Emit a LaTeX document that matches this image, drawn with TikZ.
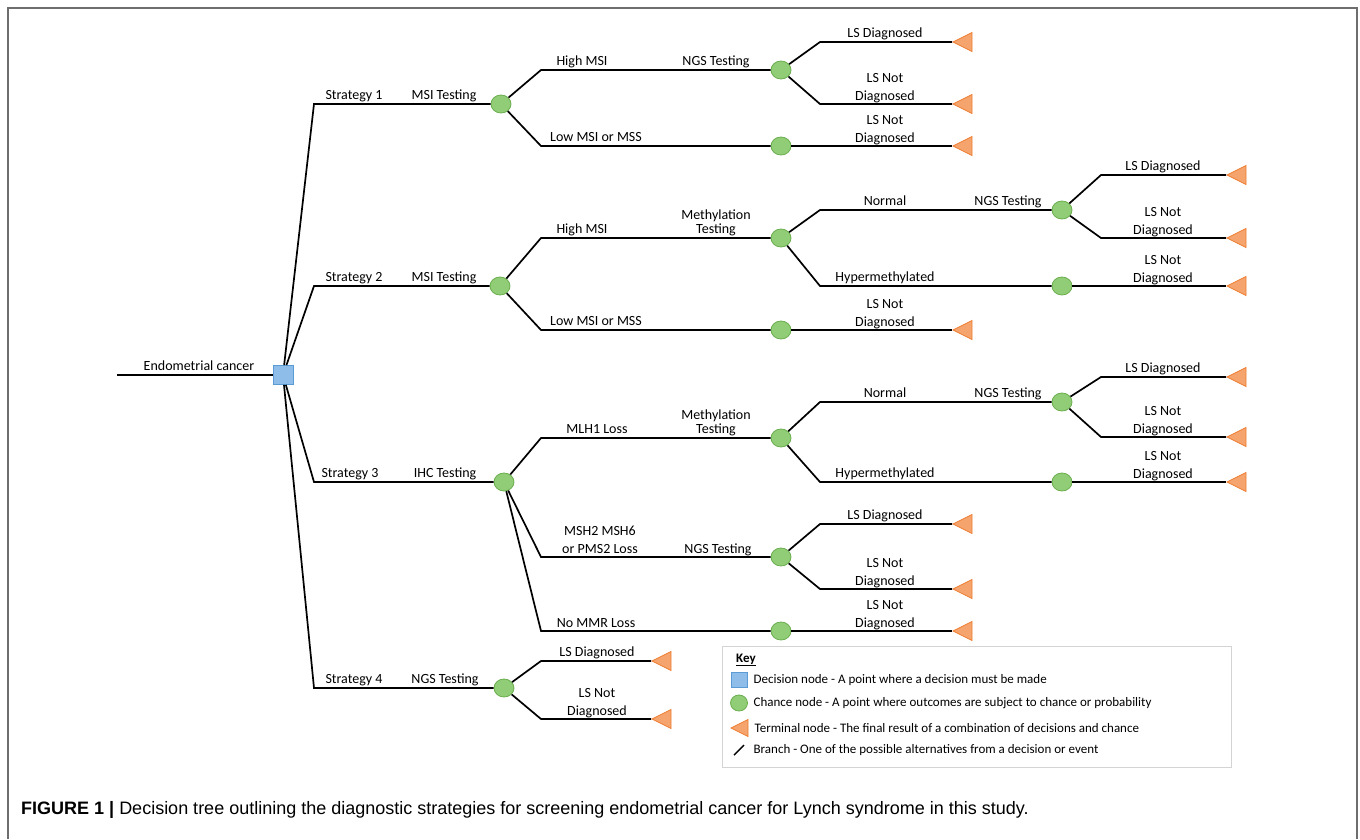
\documentclass[tikz,border=0pt]{standalone}
\usepackage{fontspec}
\setmainfont{Carlito}
\newfontfamily\capfont{Liberation Sans}
\usetikzlibrary{shapes.geometric,calc,positioning}
\definecolor{decfill}{HTML}{8EBDE9}
\definecolor{decline}{HTML}{5B9BD5}
\definecolor{chfill}{HTML}{91CD76}
\definecolor{chline}{HTML}{6AAE4E}
\definecolor{termfill}{HTML}{F6A46E}
\definecolor{termline}{HTML}{ED7D31}
\definecolor{framegray}{HTML}{6E6E6E}
\definecolor{keygray}{HTML}{D4D4D4}

\tikzset{
  branch/.style={line width=1.7pt},
  decision/.style={rectangle, fill=decfill, draw=decline, line width=0.8pt,
    minimum width=20pt, minimum height=19pt, inner sep=0pt},
  chance/.style={ellipse, fill=chfill, draw=chline, line width=0.8pt,
    minimum width=20pt, minimum height=18pt, inner sep=0pt},
  terminal/.style={isosceles triangle, shape border rotate=180,
    isosceles triangle stretches, minimum width=19pt, minimum height=19pt,
    fill=termfill, draw=termline, line width=0.8pt, inner sep=0pt, anchor=apex},
  lbl/.style={font=\fontsize{14}{17.5}\selectfont, inner sep=0pt, anchor=base, align=center},
  keytext/.style={font=\fontsize{13}{16}\selectfont, inner sep=0pt, anchor=west},
}

\begin{document}
\begin{tikzpicture}[x=1pt, y=-1pt]
  \useasboundingbox (0,0) rectangle (1360,839);
  \draw[framegray, line width=1.5pt] (8,839) -- (8,8) -- (1357,8) -- (1357,839);

  % columns where the branches turn
  \coordinate (colS) at (314,0);
  \coordinate (colA) at (541,0);
  \coordinate (colB) at (820,0);
  \coordinate (colC) at (1101,0);

  \coordinate (root) at (117,375);
  \node[decision] (dec) at (283,375) {};
  \node[lbl] (l-root) at (199,370) {Endometrial cancer};
  \draw[branch] (root) -- (dec);

  % chance and terminal nodes
  \node[chance] (s1) at (501,104) {};
  \node[chance] (n1) at (781,70) {};
  \node[chance] (c1) at (781,146) {};
  \node[terminal] (t1a) at (952,42) {};
  \node[terminal] (t1b) at (952,104) {};
  \node[terminal] (t1c) at (952,146) {};

  \node[chance] (s2) at (500,286) {};
  \node[chance] (m2) at (781,238) {};
  \node[chance] (c2) at (781,330) {};
  \node[chance] (g2) at (1062,210) {};
  \node[chance] (h2) at (1062,286) {};
  \node[terminal] (t2a) at (1226,175) {};
  \node[terminal] (t2b) at (1226,238) {};
  \node[terminal] (t2c) at (1226,286) {};
  \node[terminal] (t2d) at (952,330) {};

  \node[chance] (s3) at (504,482) {};
  \node[chance] (m3) at (781,438) {};
  \node[chance] (n3) at (781,557) {};
  \node[chance] (c3) at (781,631) {};
  \node[chance] (g3) at (1062,402) {};
  \node[chance] (h3) at (1062,482) {};
  \node[terminal] (t3a) at (1226,377) {};
  \node[terminal] (t3b) at (1226,437) {};
  \node[terminal] (t3c) at (1226,482) {};
  \node[terminal] (t3d) at (952,524) {};
  \node[terminal] (t3e) at (952,589) {};
  \node[terminal] (t3f) at (952,631) {};

  \node[chance] (s4) at (504,688) {};
  \node[terminal] (t4a) at (651,661) {};
  \node[terminal] (t4b) at (651,719) {};

  % branches
  \draw[branch] (dec) -- (colS |- s1) -- (s1);
  \draw[branch] (dec) -- (colS |- s2) -- (s2);
  \draw[branch] (dec) -- (colS |- s3) -- (s3);
  \draw[branch] (dec) -- (colS |- s4) -- (s4);

  \draw[branch] (s1) -- (colA |- n1) -- (n1);
  \draw[branch] (s1) -- (colA |- c1) -- (c1);
  \draw[branch] (n1) -- (colB |- t1a) -- (t1a);
  \draw[branch] (n1) -- (colB |- t1b) -- (t1b);
  \draw[branch] (c1) -- (t1c);

  \draw[branch] (s2) -- (colA |- m2) -- (m2);
  \draw[branch] (s2) -- (colA |- c2) -- (c2);
  \draw[branch] (c2) -- (t2d);
  \draw[branch] (m2) -- (colB |- g2) -- (g2);
  \draw[branch] (m2) -- (colB |- h2) -- (h2);
  \draw[branch] (g2) -- (colC |- t2a) -- (t2a);
  \draw[branch] (g2) -- (colC |- t2b) -- (t2b);
  \draw[branch] (h2) -- (t2c);

  \draw[branch] (s3) -- (colA |- m3) -- (m3);
  \draw[branch] (s3) -- (colA |- n3) -- (n3);
  \draw[branch] (s3) -- (colA |- c3) -- (c3);
  \draw[branch] (m3) -- (colB |- g3) -- (g3);
  \draw[branch] (m3) -- (colB |- h3) -- (h3);
  \draw[branch] (g3) -- (colC |- t3a) -- (t3a);
  \draw[branch] (g3) -- (colC |- t3b) -- (t3b);
  \draw[branch] (h3) -- (t3c);
  \draw[branch] (n3) -- (colB |- t3d) -- (t3d);
  \draw[branch] (n3) -- (colB |- t3e) -- (t3e);
  \draw[branch] (c3) -- (t3f);

  \draw[branch] (s4) -- (colA |- t4a) -- (t4a);
  \draw[branch] (s4) -- (colA |- t4b) -- (t4b);

  % labels, strategy 1
  \node[lbl] (l-st1) at (354,99) {Strategy 1};
  \node[lbl] (l-msi1) at (444,99) {MSI Testing};
  \node[lbl] (l-hi1) at (582,65) {High MSI};
  \node[lbl] (l-ngs1) at (716,65) {NGS Testing};
  \node[lbl] (l-lo1) at (596,141) {Low MSI or MSS};
  \node[lbl] (l-t1a) at (885,37) {LS Diagnosed};
  \node[lbl] (l-t1b) at (885,100) {LS Not\\Diagnosed};
  \node[lbl] (l-t1c) at (885,142) {LS Not\\Diagnosed};

  % labels, strategy 2
  \node[lbl] (l-st2) at (354,281) {Strategy 2};
  \node[lbl] (l-msi2) at (444,281) {MSI Testing};
  \node[lbl] (l-hi2) at (582,233) {High MSI};
  \node[lbl, font=\fontsize{14}{14}\selectfont] (l-met2) at (716,233) {Methylation\\Testing};
  \node[lbl] (l-lo2) at (596,325) {Low MSI or MSS};
  \node[lbl] (l-t2d) at (885,326) {LS Not\\Diagnosed};
  \node[lbl] (l-nor2) at (885,205) {Normal};
  \node[lbl] (l-ngs2) at (1008,205) {NGS Testing};
  \node[lbl] (l-hyp2) at (885,281) {Hypermethylated};
  \node[lbl] (l-t2a) at (1163,170) {LS Diagnosed};
  \node[lbl] (l-t2b) at (1163,234) {LS Not\\Diagnosed};
  \node[lbl] (l-t2c) at (1163,282) {LS Not\\Diagnosed};

  % labels, strategy 3
  \node[lbl] (l-st3) at (350,477) {Strategy 3};
  \node[lbl] (l-ihc3) at (445,477) {IHC Testing};
  \node[lbl] (l-mlh3) at (597,433) {MLH1 Loss};
  \node[lbl, font=\fontsize{14}{14}\selectfont] (l-met3) at (716,433) {Methylation\\Testing};
  \node[lbl, font=\fontsize{14}{18}\selectfont] (l-msh3) at (600,553) {MSH2 MSH6\\or PMS2 Loss};
  \node[lbl] (l-ngs3) at (718,553) {NGS Testing};
  \node[lbl] (l-mmr3) at (596,627) {No MMR Loss};
  \node[lbl] (l-nor3) at (885,397) {Normal};
  \node[lbl] (l-ngs3b) at (1008,397) {NGS Testing};
  \node[lbl] (l-hyp3) at (885,477) {Hypermethylated};
  \node[lbl] (l-t3a) at (1163,372) {LS Diagnosed};
  \node[lbl] (l-t3b) at (1163,433) {LS Not\\Diagnosed};
  \node[lbl] (l-t3c) at (1163,478) {LS Not\\Diagnosed};
  \node[lbl] (l-t3d) at (885,519) {LS Diagnosed};
  \node[lbl] (l-t3e) at (885,585) {LS Not\\Diagnosed};
  \node[lbl] (l-t3f) at (885,627) {LS Not\\Diagnosed};

  % labels, strategy 4
  \node[lbl] (l-st4) at (354,683) {Strategy 4};
  \node[lbl] (l-ngs4) at (445,683) {NGS Testing};
  \node[lbl] (l-t4a) at (597,656) {LS Diagnosed};
  \node[lbl] (l-t4b) at (597,715) {LS Not\\Diagnosed};

  % key
  \node[draw=keygray, line width=1pt, minimum width=509pt, minimum height=121pt,
        inner sep=0pt, anchor=north west] (keybox) at (722,646) {};
  \node[font=\fontsize{13}{16}\selectfont\bfseries, inner sep=0pt, anchor=base west]
        (keyt) at (736,662) {\underline{Key}};
  \node[decision, minimum width=16pt, minimum height=15pt] (kdec) at (739,680) {};
  \node[keytext, right=6pt of kdec] (kdec-t) {Decision node - A point where a decision must be made};
  \node[chance, minimum width=17pt, minimum height=16pt] (kch) at (739,703) {};
  \node[keytext, right=5.5pt of kch] (kch-t) {Chance node - A point where outcomes are subject to chance or probability};
  \node[terminal, minimum width=17pt, minimum height=17pt] (kterm) at (730,728) {};
  \node[keytext, right=6pt of kterm] (kterm-t) {Terminal node - The final result of a combination of decisions and chance};
  \coordinate (kbr) at (739,750);
  \draw[line width=1.4pt] ($(kbr)+(-5,5)$) -- ($(kbr)+(5,-5)$);
  \node[keytext] (kbr-t) at (kdec-t.west |- kbr) {Branch - One of the possible alternatives from a decision or event};

  % caption
  \node[font=\capfont\fontsize{18}{22}\selectfont, inner sep=0pt, anchor=base west] (cap)
        at (21,814) {\textbf{FIGURE 1 |} Decision tree outlining the diagnostic strategies for screening endometrial cancer for Lynch syndrome in this study.};
\end{tikzpicture}
\end{document}
